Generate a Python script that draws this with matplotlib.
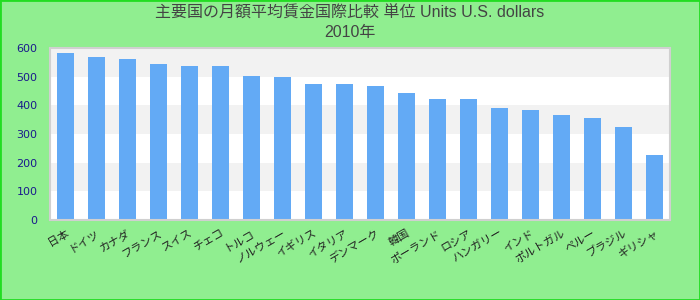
import matplotlib
matplotlib.use("Agg")
import matplotlib.pyplot as plt
from matplotlib.patches import Rectangle

categories = ["日本", "ドイツ", "カナダ", "フランス", "スイス", "チェコ", "トルコ",
              "ノルウェー", "イギリス", "イタリア", "デンマーク", "韓国", "ポーランド",
              "ロシア", "ハンガリー", "インド", "ポルトガル", "ペルー", "ブラジル", "ギリシャ"]
values = [582, 568, 561, 544, 537, 537, 502, 499, 474, 474,
          467, 443, 422, 422, 391, 384, 366, 356, 324, 227]
yticks = [0, 100, 200, 300, 400, 500, 600]
title_line1 = "主要国の月額平均賃金国際比較 単位 Units U.S. dollars"
title_line2 = "2010年"

plt.rcParams['font.family'] = ['DejaVu Sans', 'Noto Sans CJK JP']

fig = plt.figure(figsize=(7, 3), dpi=100, facecolor='#90EE90')
ax = fig.add_axes([50/700, 80/300, 620/700, 172/300])
ax.set_facecolor('white')

# alternating bands
for i, lo in enumerate(yticks[:-1]):
    if i % 2 == 1:
        ax.axhspan(lo, yticks[i+1], color='#F2F2F2', zorder=0, lw=0)

x = list(range(len(categories)))
ax.bar(x, values, width=0.55, color='#63AAF5', zorder=2)
ax.set_xlim(-0.5, len(categories) - 0.5)
ax.set_ylim(0, 600)
ax.set_yticks(yticks)
ax.set_xticks(x)
ax.set_xticklabels(categories, rotation=30, ha='right', rotation_mode='anchor',
                   fontsize=8, color='#222222',
                   family=['Noto Sans CJK JP', 'DejaVu Sans'])
ax.tick_params(axis='y', length=0, pad=9, labelsize=8, labelcolor='#1A1A8C')
ax.tick_params(axis='x', length=0, pad=6)
for s in ax.spines.values():
    s.set_color('#D0D0D0')
    s.set_linewidth(1.5)

fig.text(0.5, 1 - 13/300, title_line1, ha='center', va='center', fontsize=11.5,
         color='#444444', family=['Liberation Sans', 'Noto Sans CJK JP'])
fig.text(0.5, 1 - 32/300, title_line2, ha='center', va='center', fontsize=11.5,
         color='#444444', family=['Liberation Sans', 'Noto Sans CJK JP'])

fig.patches.append(Rectangle((0, 0), 1, 1, transform=fig.transFigure, fill=False,
                             edgecolor='#22DD22', linewidth=2, zorder=10))

fig.savefig('out.png', dpi=100, facecolor=fig.get_facecolor())
